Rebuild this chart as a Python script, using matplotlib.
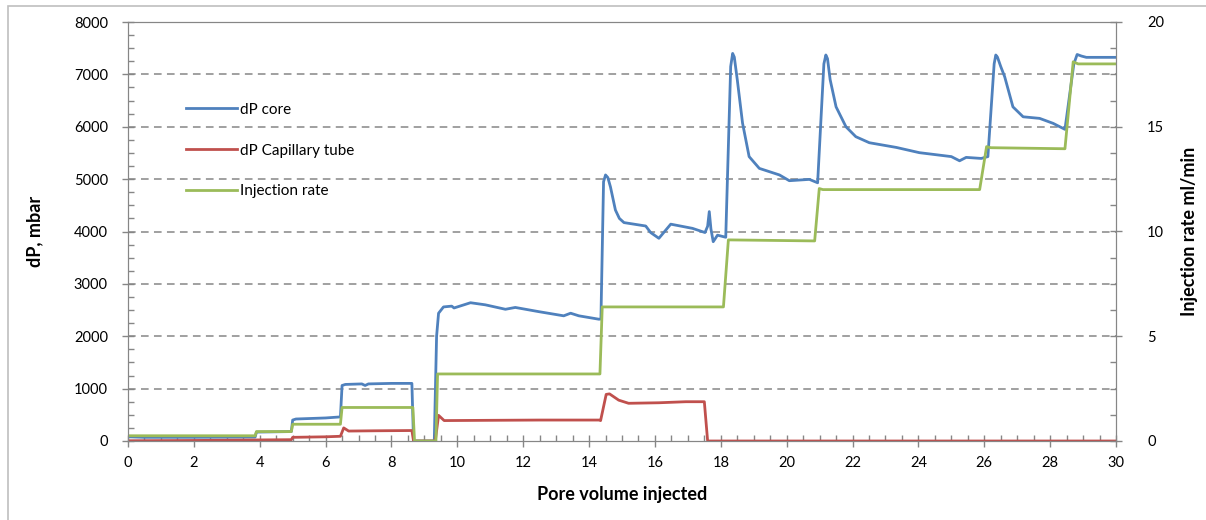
import matplotlib
matplotlib.use("Agg")
import matplotlib.pyplot as plt
from matplotlib.ticker import MultipleLocator
from matplotlib.patches import Rectangle

plt.rcParams['font.family'] = ['Lato', 'DejaVu Sans']

# dP over the core (mbar)
pv_core = [0.0, 0.5, 2.0, 3.86, 3.9, 4.96, 5.0, 5.1, 6.0, 6.45, 6.5, 6.6, 7.1, 7.2, 7.3,
           8.0, 8.62, 8.67, 9.3, 9.37, 9.43, 9.58, 9.83, 9.9, 10.0, 10.4, 10.85, 11.46,
           11.76, 12.47, 13.23, 13.44, 13.69, 14.3, 14.36, 14.44, 14.5, 14.57, 14.65,
           14.8, 14.92, 15.06, 15.72, 15.87, 16.12, 16.48, 17.14, 17.52, 17.6, 17.65,
           17.7, 17.77, 17.9, 18.15, 18.3, 18.36, 18.41, 18.5, 18.66, 18.86, 19.17,
           19.78, 20.08, 20.69, 20.94, 21.13, 21.19, 21.24, 21.32, 21.5, 21.8, 22.1,
           22.51, 23.33, 24.03, 25.0, 25.25, 25.45, 25.91, 26.11, 26.3, 26.35, 26.4,
           26.5, 26.62, 26.87, 27.18, 27.68, 28.09, 28.45, 28.72, 28.82, 28.95, 29.1,
           30.0]
dp_core = [80, 70, 70, 75, 170, 180, 400, 420, 440, 460, 1060, 1080, 1090, 1060, 1090,
           1100, 1100, 0, 0, 2000, 2440, 2560, 2575, 2540, 2560, 2640, 2600, 2515,
           2550, 2470, 2390, 2440, 2390, 2325, 2330, 4950, 5080, 5030, 4850,
           4410, 4250, 4170, 4105, 3980, 3870, 4140, 4060, 3980, 4100, 4380,
           4050, 3805, 3930, 3890, 7150, 7400, 7330, 6900, 6070, 5430, 5205,
           5080, 4970, 4995, 4930, 7200, 7370, 7300, 6900, 6380, 6000, 5810,
           5695, 5605, 5505, 5430, 5350, 5415, 5395, 5430, 7200, 7370, 7330,
           7150, 6955, 6380, 6190, 6160, 6065, 5950, 7200, 7380, 7350, 7325,
           7325]

# dP over the capillary tube (mbar)
pv_cap = [0.0, 2.0, 3.9, 4.96, 5.0, 6.0, 6.45, 6.55, 6.7, 7.5, 8.62, 8.67, 9.33, 9.43,
          9.6, 11.0, 12.5, 14.3, 14.35, 14.52, 14.62, 14.9, 15.2, 16.12, 16.94, 17.5,
          17.6, 30.0]
dp_cap = [5, 10, 20, 25, 70, 80, 90, 250, 190, 195, 200, 0, 0, 490, 390, 395, 400, 400,
          390, 890, 900, 780, 720, 730, 750, 750, 0, 0]

# injection rate (ml/min)
pv_rate = [0.0, 3.86, 3.9, 4.96, 5.0, 6.45, 6.5, 8.65, 8.7, 9.35, 9.4, 14.33, 14.4,
           18.08, 18.23, 20.85, 20.99, 21.1, 25.86, 26.07, 26.2, 28.45, 28.7, 28.85, 30.0]
rate = [0.25, 0.25, 0.45, 0.45, 0.8, 0.8, 1.6, 1.6, 0.0, 0.0, 3.2, 3.2, 6.4,
        6.4, 9.6, 9.55, 12.05, 12.0, 12.0, 14.05, 14.0, 13.95, 18.1, 18.0, 18.0]

blue = '#4F81BD'
red = '#C0504D'
green = '#9BBB59'
axis_grey = '#868686'

fig = plt.figure(figsize=(12.06, 5.2), dpi=100)
ax = fig.add_axes([128 / 1206, 1 - 441 / 520, (1116 - 128) / 1206, (441 - 22) / 520])
ax2 = ax.twinx()

l1, = ax.plot(pv_core, dp_core, color=blue, lw=2.0, label='dP core', solid_joinstyle='round')
l2, = ax.plot(pv_cap, dp_cap, color=red, lw=2.0, label='dP Capillary tube', solid_joinstyle='round')
l3, = ax2.plot(pv_rate, rate, color=green, lw=2.0, label='Injection rate', solid_joinstyle='round')

ax.set_xlim(0, 30)
ax.set_ylim(0, 8000)
ax2.set_ylim(0, 20)

ax.xaxis.set_major_locator(MultipleLocator(2))
ax.xaxis.set_minor_locator(MultipleLocator(0.5))
ax.yaxis.set_major_locator(MultipleLocator(1000))
ax.yaxis.set_minor_locator(MultipleLocator(250))
ax2.yaxis.set_major_locator(MultipleLocator(5))
ax2.yaxis.set_minor_locator(MultipleLocator(1.25))

for a in (ax, ax2):
    a.tick_params(which='major', direction='inout', length=9, width=1, color=axis_grey,
                  labelsize=10.5, pad=6)
    a.tick_params(which='minor', direction='in', length=4, width=1, color=axis_grey)
    for s in a.spines.values():
        s.set_color(axis_grey)
ax.tick_params(axis='y', pad=10)
ax2.tick_params(axis='y', pad=18)

for yv in range(1000, 8000, 1000):
    ax.axhline(yv, color=axis_grey, lw=1.1, ls=(0, (5, 3.5)), zorder=0)

ax.set_xlabel('Pore volume injected', fontsize=13, fontweight='bold', labelpad=12)
ax.set_ylabel('dP, mbar', fontsize=13, fontweight='bold', labelpad=22)
ax2.set_ylabel('Injection rate ml/min', fontsize=13, fontweight='bold', labelpad=12)

ax.legend(handles=[l1, l2, l3], loc='upper left', bbox_to_anchor=(0.045, 0.84),
          frameon=False, fontsize=11, handlelength=3.3, handletextpad=0.25,
          labelspacing=1.75)

# light frame around the whole chart
fig.patches.append(Rectangle((8 / 1206, -0.5), 2, 1.5 - 6 / 520, transform=fig.transFigure,
                             fill=False, edgecolor='#BFBFBF', lw=1.2))

fig.savefig('out.png', dpi=100)
